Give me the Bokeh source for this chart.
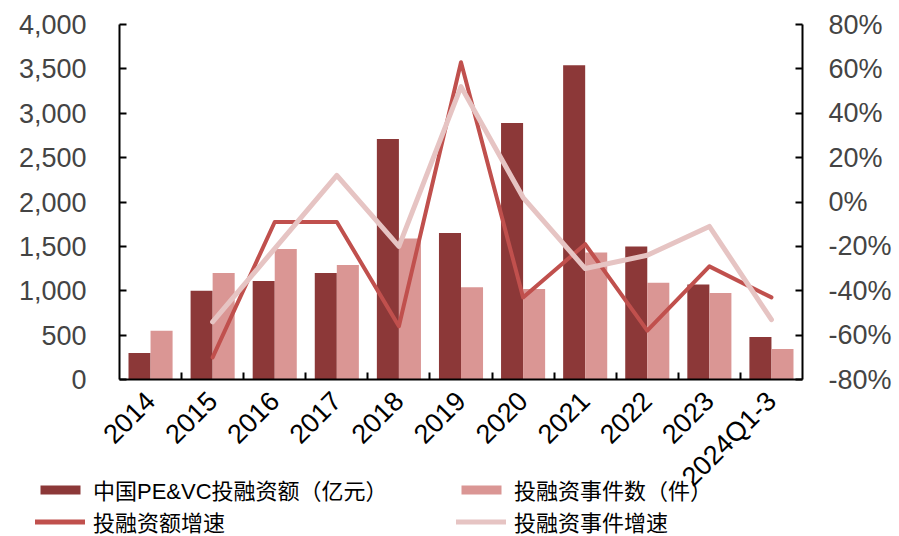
import math
from bokeh.plotting import figure
from bokeh.layouts import column
from bokeh.models import (Range1d, LinearAxis, FixedTicker, NumeralTickFormatter,
                          Legend, LegendItem, ColumnDataSource)
from bokeh.embed import file_html
from bokeh.resources import INLINE

# ---- data ----
years = ["2014", "2015", "2016", "2017", "2018", "2019", "2020", "2021", "2022", "2023", "2024Q1-3"]
amount = [300, 1000, 1110, 1200, 2710, 1650, 2890, 3540, 1500, 1070, 480]          # 亿元
deals = [550, 1200, 1470, 1290, 1590, 1040, 1020, 1430, 1090, 975, 345]            # 件
amount_growth = [float("nan"), -0.70, -0.09, -0.09, -0.56, 0.63, -0.43, -0.19, -0.58, -0.29, -0.43]
deals_growth = [float("nan"), -0.54, -0.21, 0.12, -0.20, 0.52, 0.02, -0.30, -0.24, -0.11, -0.53]
legend_labels = ["中国PE&VC投融资额（亿元）", "投融资事件数（件）", "投融资额增速", "投融资事件增速"]

left_ticks = [0, 500, 1000, 1500, 2000, 2500, 3000, 3500, 4000]
right_ticks = [-0.8, -0.6, -0.4, -0.2, 0.0, 0.2, 0.4, 0.6, 0.8]

C_AMT, C_DEAL, C_AG, C_DG = "#8C3838", "#DA9694", "#C0504D", "#E6C4C3"

n = len(years)
centers = [i + 0.5 for i in range(n)]
bw = 0.355

src = ColumnDataSource(dict(
    xa=[c - bw / 2 for c in centers], xb=[c + bw / 2 for c in centers], xc=centers,
    amount=amount, deals=deals, ag=amount_growth, dg=deals_growth))

FONT_TICK = "Liberation Sans"
FONT_LEG = "Liberation Sans, Noto Sans CJK SC"

p = figure(width=899, height=536, output_backend="svg", toolbar_location=None,
           x_range=Range1d(0, n), y_range=Range1d(0, 4000),
           x_axis_location=None, y_axis_location=None,
           min_border_left=119, min_border_right=97, min_border_top=24, min_border_bottom=157)
p.outline_line_color = None
p.grid.visible = False
p.background_fill_color = "white"
p.extra_y_ranges = {"r": Range1d(-0.8, 0.8)}

# axes
xa = LinearAxis(ticker=FixedTicker(ticks=centers, minor_ticks=list(range(1, n))))
xa.major_label_overrides = {c: y for c, y in zip(centers, years)}
xa.major_tick_line_color = None
xa.major_tick_in = 0
xa.major_tick_out = 0
xa.minor_tick_in = 7
xa.minor_tick_out = 0
xa.minor_tick_line_width = 2
xa.minor_tick_line_color = "black"
xa.axis_line_width = 2
xa.axis_line_color = "black"
xa.major_label_orientation = math.pi / 4
xa.major_label_text_font = FONT_TICK
xa.major_label_text_font_size = "27px"
xa.major_label_text_color = "black"
xa.major_label_standoff = 17
p.add_layout(xa, "below")

ya = LinearAxis(ticker=FixedTicker(ticks=left_ticks), formatter=NumeralTickFormatter(format="0,0"))
ya.major_tick_in = 7
ya.major_tick_out = 0
ya.major_tick_line_width = 2
ya.minor_tick_line_color = None
ya.axis_line_width = 2
ya.major_label_text_font = FONT_TICK
ya.major_label_text_font_size = "27px"
ya.major_label_standoff = 33
p.add_layout(ya, "left")

yr = LinearAxis(y_range_name="r", ticker=FixedTicker(ticks=right_ticks),
                formatter=NumeralTickFormatter(format="0%"))
yr.major_tick_in = 7
yr.major_tick_out = 0
yr.major_tick_line_width = 2
yr.minor_tick_line_color = None
yr.axis_line_width = 2
yr.major_label_text_font = FONT_TICK
yr.major_label_text_font_size = "27px"
yr.major_label_standoff = 26
p.add_layout(yr, "right")

# bars
p.vbar(x="xa", top="amount", width=bw, bottom=0, source=src, fill_color=C_AMT, line_color=None)
p.vbar(x="xb", top="deals", width=bw, bottom=0, source=src, fill_color=C_DEAL, line_color=None)
# lines
p.line(x="xc", y="ag", source=src, y_range_name="r", line_color=C_AG,
       line_width=4, line_join="round", line_cap="round")
p.line(x="xc", y="dg", source=src, y_range_name="r", line_color=C_DG,
       line_width=5, line_join="round", line_cap="round")

# ---- legend strip, overlapping the bottom of the chart (transparent) ----
LH = 63
lf = figure(width=960, height=LH, output_backend="svg", toolbar_location=None,
            x_range=Range1d(0, n), y_range=Range1d(0, 4000),
            x_axis_location=None, y_axis_location=None,
            min_border_left=0, min_border_right=0, min_border_top=0, min_border_bottom=0,
            margin=(-LH, 0, 0, -84))
lf.outline_line_color = None
lf.grid.visible = False
lf.background_fill_alpha = 0
lf.border_fill_alpha = 0
g1 = lf.vbar(x="xa", top="amount", width=bw, source=src, fill_color=C_AMT, line_color=None, visible=False)
g2 = lf.vbar(x="xb", top="deals", width=bw, source=src, fill_color=C_DEAL, line_color=None, visible=False)
g3 = lf.line(x="xc", y="amount", source=src, line_color=C_AG, line_width=5, line_cap="round", visible=False)
g4 = lf.line(x="xc", y="deals", source=src, line_color=C_DG, line_width=5, line_cap="round", visible=False)

lg = Legend(items=[LegendItem(label=legend_labels[0], renderers=[g1]),
                   LegendItem(label=legend_labels[1], renderers=[g2]),
                   LegendItem(label=legend_labels[2], renderers=[g3]),
                   LegendItem(label=legend_labels[3], renderers=[g4])],
            location="top_left", orientation="horizontal", ncols=2,
            glyph_width=50, glyph_height=11, label_height=22, label_width=363,
            spacing=-6, label_standoff=8, padding=0, margin=0,
            background_fill_alpha=0, border_line_alpha=0,
            inactive_fill_alpha=0,
            label_text_font=FONT_LEG, label_text_font_size="22px",
            label_text_color="black")
lf.add_layout(lg, "center")

layout = column(p, lf, spacing=0)
open("out.html", "w").write(file_html(layout, INLINE))
